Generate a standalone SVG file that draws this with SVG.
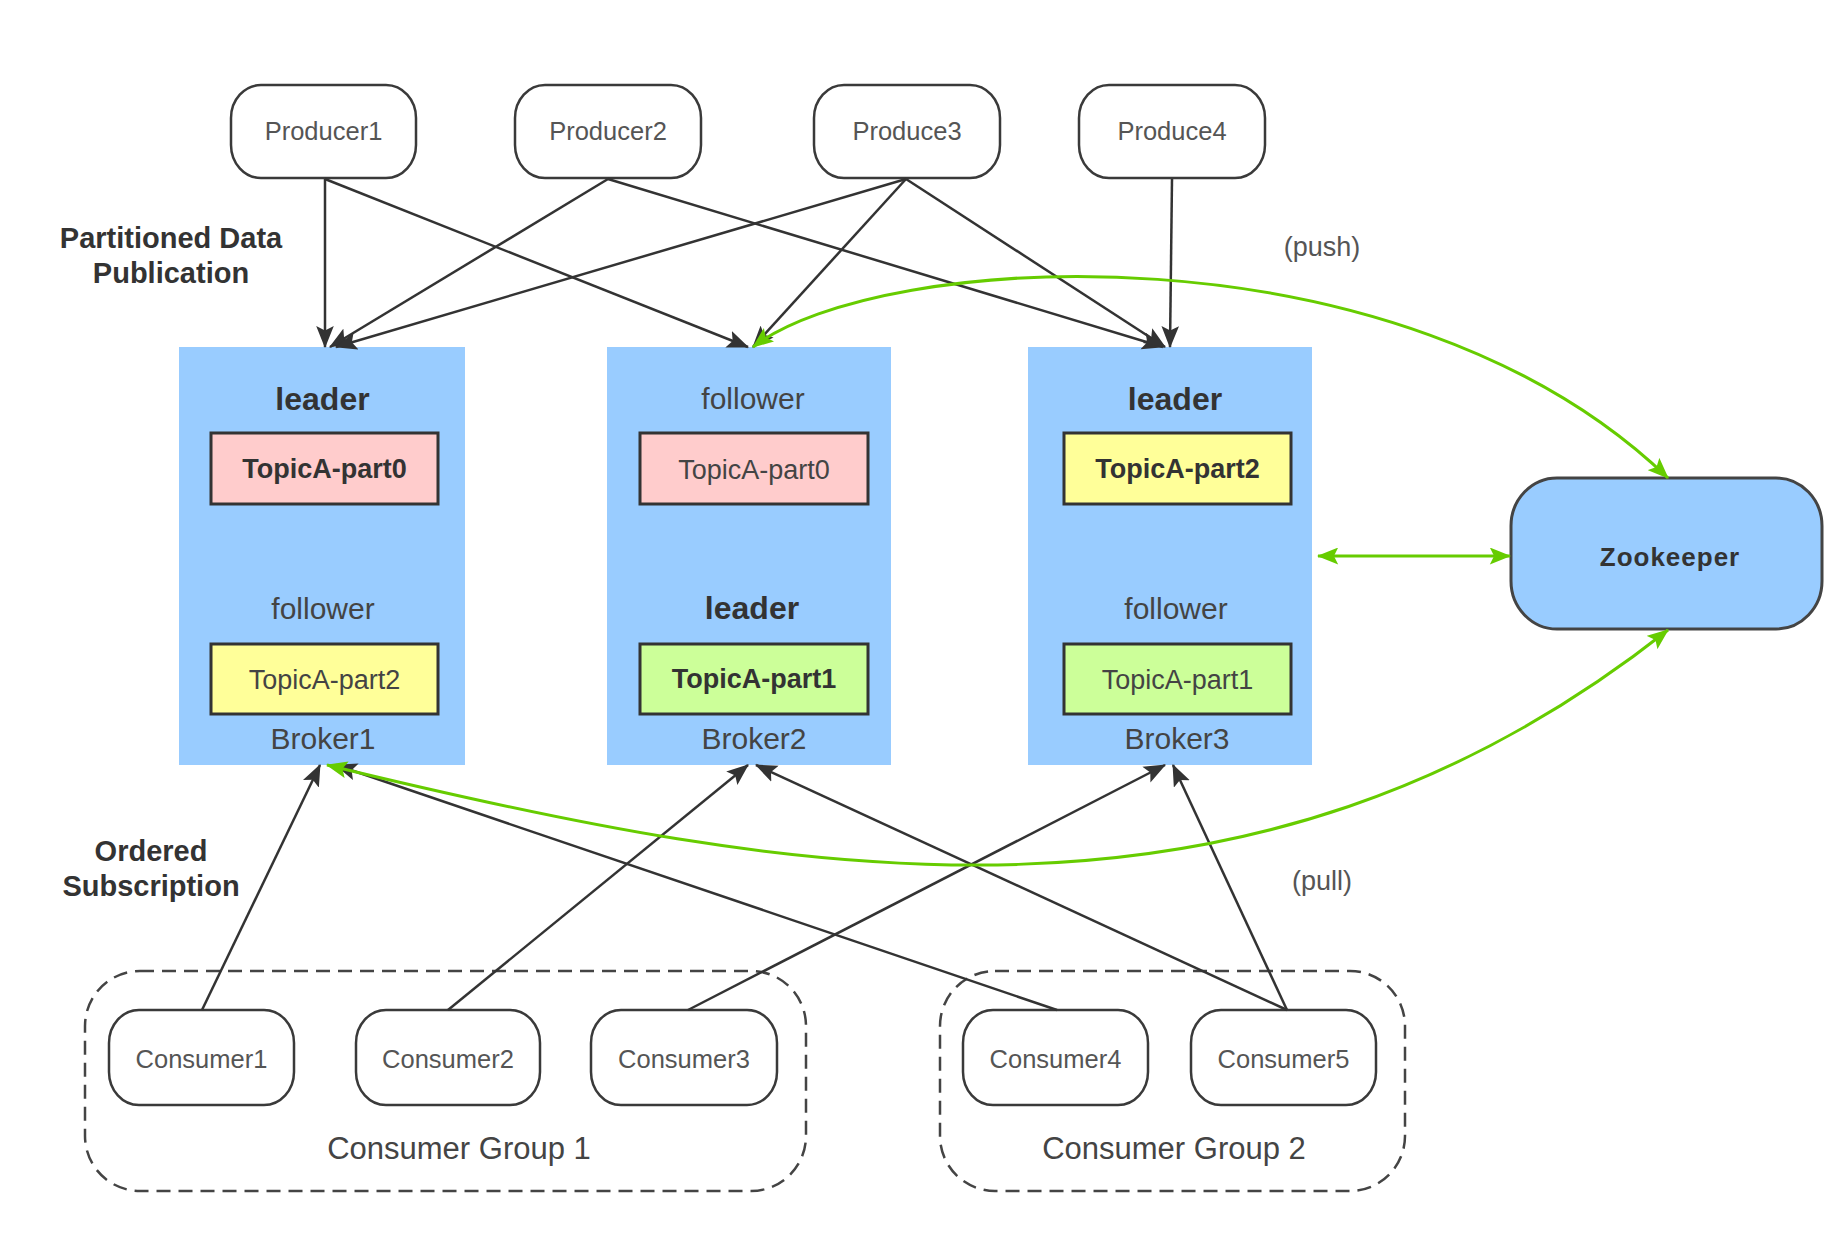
<svg xmlns="http://www.w3.org/2000/svg" width="1836" height="1250" viewBox="0 0 1836 1250">
<defs>
<marker id="ab" viewBox="0 0 20 16" refX="19" refY="8" markerWidth="22" markerHeight="18" markerUnits="userSpaceOnUse" orient="auto-start-reverse"><path d="M0,0 L20,8 L0,16 L4,8 Z" fill="#333"/></marker>
<marker id="ag" viewBox="0 0 20 16" refX="19" refY="8" markerWidth="22" markerHeight="17" markerUnits="userSpaceOnUse" orient="auto-start-reverse"><path d="M0,0 L20,8 L0,16 L4,8 Z" fill="#66cc00"/></marker>
<style>
.node{fill:#fff;stroke:#3a3a3a;stroke-width:2.5}
.broker{fill:#99ccff}
.topic{stroke:#333;stroke-width:3}
.pink{fill:#ffcccc}.yel{fill:#ffff99}.grn{fill:#ccff99}
.grp{fill:none;stroke:#444;stroke-width:2.5;stroke-dasharray:14 8}
.t{font-family:"Liberation Sans",Arial,sans-serif;text-anchor:middle;fill:#444}
.b{font-weight:bold;fill:#333}
.sm{font-size:25.5px;fill:#555}
.md{font-size:30px}
.ld{font-size:32px}
.tp{font-size:27px}
.lbl{font-size:29px;font-weight:bold;fill:#333}
.bl{fill:none;stroke:#333;stroke-width:2.5;marker-end:url(#ab)}
.gl{fill:none;stroke:#66cc00;stroke-width:3;marker-start:url(#ag);marker-end:url(#ag)}
</style>
</defs>

<g id="labels">
<text class="t lbl" x="171" y="248">Partitioned Data</text>
<text class="t lbl" x="171" y="283">Publication</text>
<text class="t lbl" x="151" y="861">Ordered</text>
<text class="t lbl" x="151" y="896">Subscription</text>
<text class="t sm" x="1322" y="256" style="font-size:27px">(push)</text>
<text class="t sm" x="1322" y="890" style="font-size:27px">(pull)</text>
</g>

<g id="producer1"><rect class="node" x="231" y="85" width="185" height="93" rx="30" ry="33"/><text class="t sm" x="323.5" y="140">Producer1</text></g>
<g id="producer2"><rect class="node" x="515" y="85" width="186" height="93" rx="30" ry="33"/><text class="t sm" x="608" y="140">Producer2</text></g>
<g id="produce3"><rect class="node" x="814" y="85" width="186" height="93" rx="30" ry="33"/><text class="t sm" x="907" y="140">Produce3</text></g>
<g id="produce4"><rect class="node" x="1084" y="85" width="186" height="93" rx="30" ry="33" transform="translate(-5,0)"/><text class="t sm" x="1172" y="140">Produce4</text></g>

<g id="broker1">
<rect class="broker" x="179" y="347" width="286" height="418"/>
<text class="t b ld" x="322.5" y="410">leader</text>
<rect class="topic pink" x="211" y="433" width="227" height="71"/>
<text class="t b tp" x="324.5" y="478">TopicA-part0</text>
<text class="t md" x="323" y="619">follower</text>
<rect class="topic yel" x="211" y="644" width="227" height="70"/>
<text class="t tp" x="324.5" y="689">TopicA-part2</text>
<text class="t md" x="323" y="749">Broker1</text>
</g>

<g id="broker2">
<rect class="broker" x="607" y="347" width="284" height="418"/>
<text class="t md" x="753" y="409">follower</text>
<rect class="topic pink" x="640" y="433" width="228" height="71"/>
<text class="t tp" x="754" y="479">TopicA-part0</text>
<text class="t b ld" x="752" y="619">leader</text>
<rect class="topic grn" x="640" y="644" width="228" height="70"/>
<text class="t b tp" x="754" y="688">TopicA-part1</text>
<text class="t md" x="754" y="749">Broker2</text>
</g>

<g id="broker3">
<rect class="broker" x="1028" y="347" width="284" height="418"/>
<text class="t b ld" x="1175" y="410">leader</text>
<rect class="topic yel" x="1064" y="433" width="227" height="71"/>
<text class="t b tp" x="1177.5" y="478">TopicA-part2</text>
<text class="t md" x="1176" y="619">follower</text>
<rect class="topic grn" x="1064" y="644" width="227" height="70"/>
<text class="t tp" x="1177.5" y="689">TopicA-part1</text>
<text class="t md" x="1177" y="749">Broker3</text>
</g>

<g id="zookeeper">
<rect x="1511" y="478" width="311" height="151" rx="46" ry="48" fill="#99ccff" stroke="#444" stroke-width="3"/>
<text class="t b" x="1670" y="566" style="font-size:26px;letter-spacing:1px">Zookeeper</text>
</g>

<g id="consumer-group-1">
<rect class="grp" x="85" y="971" width="721" height="220" rx="55" ry="55"/>
<text class="t" x="459" y="1159" style="font-size:31px">Consumer Group 1</text>
</g>
<g id="consumer-group-2">
<rect class="grp" x="940" y="971" width="465" height="220" rx="55" ry="55"/>
<text class="t" x="1174" y="1159" style="font-size:31px">Consumer Group 2</text>
</g>

<g id="consumer1"><rect class="node" x="109" y="1010" width="185" height="95" rx="30" ry="33"/><text class="t sm" x="201.5" y="1068">Consumer1</text></g>
<g id="consumer2"><rect class="node" x="356" y="1010" width="184" height="95" rx="30" ry="33"/><text class="t sm" x="448" y="1068">Consumer2</text></g>
<g id="consumer3"><rect class="node" x="591" y="1010" width="186" height="95" rx="30" ry="33"/><text class="t sm" x="684" y="1068">Consumer3</text></g>
<g id="consumer4"><rect class="node" x="963" y="1010" width="185" height="95" rx="30" ry="33"/><text class="t sm" x="1055.5" y="1068">Consumer4</text></g>
<g id="consumer5"><rect class="node" x="1191" y="1010" width="185" height="95" rx="30" ry="33"/><text class="t sm" x="1283.5" y="1068">Consumer5</text></g>

<g id="connectors">
<line class="bl" x1="325" y1="179" x2="325" y2="347"/>
<line class="bl" x1="325" y1="179" x2="748" y2="347"/>
<line class="bl" x1="608" y1="179" x2="330" y2="347"/>
<line class="bl" x1="608" y1="179" x2="1163" y2="347"/>
<line class="bl" x1="906" y1="179" x2="336" y2="347"/>
<line class="bl" x1="906" y1="179" x2="753" y2="347"/>
<line class="bl" x1="906" y1="179" x2="1165" y2="347"/>
<line class="bl" x1="1172" y1="179" x2="1170" y2="347"/>

<line class="bl" x1="202" y1="1010" x2="320" y2="765"/>
<line class="bl" x1="448" y1="1010" x2="748" y2="765"/>
<line class="bl" x1="688" y1="1010" x2="1165" y2="765"/>
<line class="bl" x1="1057" y1="1010" x2="336" y2="765"/>
<line class="bl" x1="1287" y1="1010" x2="756" y2="765"/>
<line class="bl" x1="1287" y1="1010" x2="1173" y2="765"/>

<path class="gl" d="M753,347 C880,250 1400,220 1668,478"/>
<line class="gl" x1="1318" y1="556" x2="1510" y2="556"/>
<path class="gl" d="M327,765 C800,880 1250,960 1668,630"/>
</g>
</svg>
